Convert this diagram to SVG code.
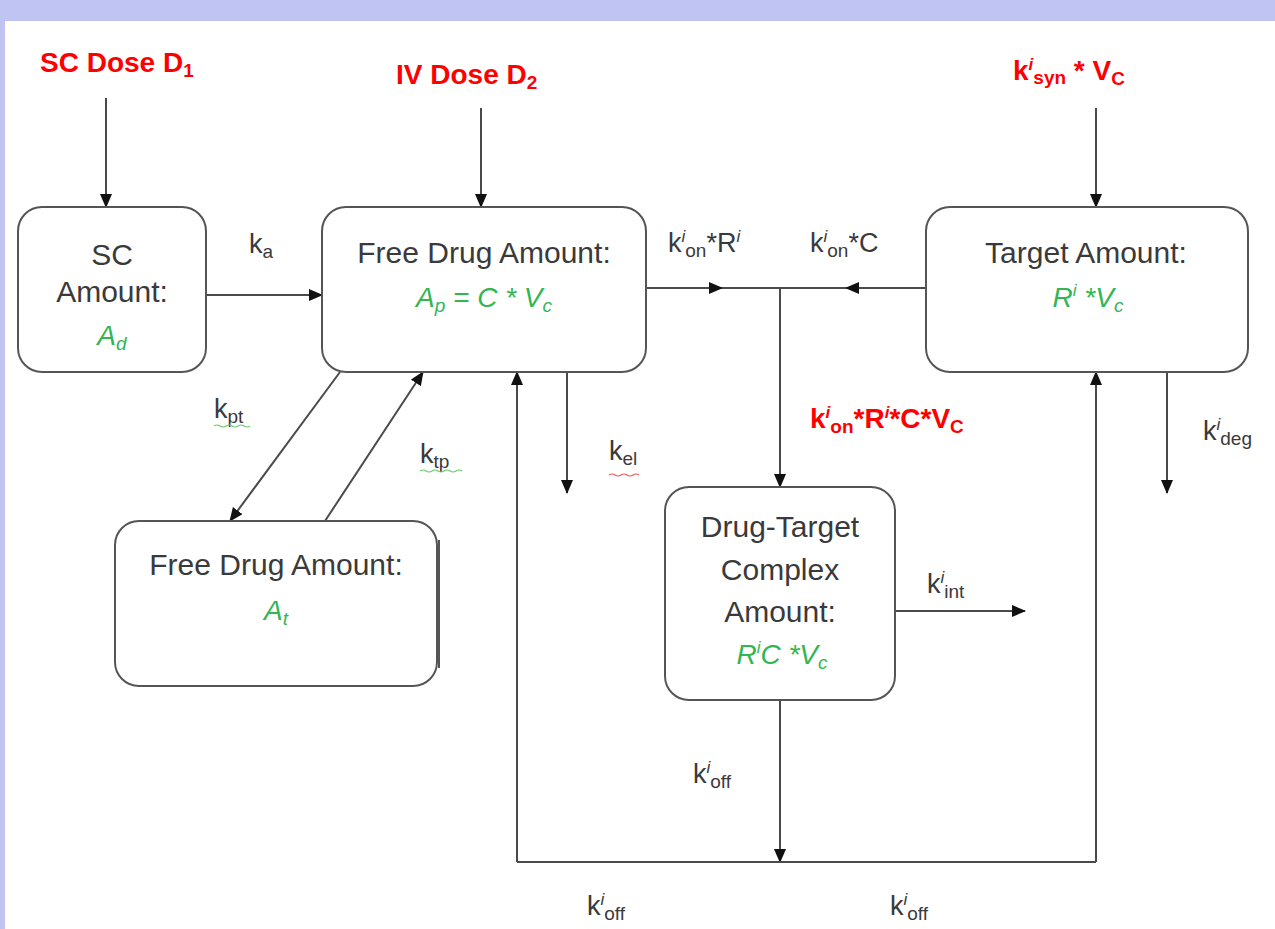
<svg xmlns="http://www.w3.org/2000/svg" width="1275" height="929" viewBox="0 0 1275 929">
<style>
.box{fill:#fff;stroke:#555;stroke-width:2}
.ln{fill:none;stroke:#4a4a4a;stroke-width:2}
.t{font-family:"Liberation Sans",Arial,sans-serif;font-size:30px;fill:#3a3a3a}
.f{font-family:"Liberation Sans",Arial,sans-serif;font-size:28px;font-style:italic;fill:#33b553}
.lab{font-family:"Liberation Sans",Arial,sans-serif;font-size:27px;fill:#3a3a3a}
.red{font-family:"Liberation Sans",Arial,sans-serif;font-size:28px;font-weight:bold;fill:#ff0000}
.sub{font-size:19px}
.sup{font-size:17px;font-style:italic}
</style>
<defs>
<marker id="ah" markerUnits="userSpaceOnUse" markerWidth="14" markerHeight="12" refX="13" refY="6" orient="auto">
<path d="M0,0 L14,6 L0,12 Z" fill="#111"/>
</marker>
</defs>
<rect x="0" y="0" width="1275" height="929" fill="#c0c4f2"/>
<rect x="5" y="21" width="1270" height="908" fill="#fff"/>

<g id="connectors">
<path class="ln" d="M106 98 V207" marker-end="url(#ah)"/>
<path class="ln" d="M481 108 V207" marker-end="url(#ah)"/>
<path class="ln" d="M1096 108 V207" marker-end="url(#ah)"/>
<path class="ln" d="M206 295 H322" marker-end="url(#ah)"/>
<path class="ln" d="M646 288 H926"/>
<path class="ln" d="M646 288 H722" marker-end="url(#ah)"/>
<path class="ln" d="M926 288 H846" marker-end="url(#ah)"/>
<path class="ln" d="M780 288 V487" marker-end="url(#ah)"/>
<path class="ln" d="M567 372 V493" marker-end="url(#ah)"/>
<path class="ln" d="M1167 372 V493" marker-end="url(#ah)"/>
<path class="ln" d="M340 372 L230 521" marker-end="url(#ah)"/>
<path class="ln" d="M325 521 L423 372" marker-end="url(#ah)"/>
<path class="ln" d="M895 611 H1025" marker-end="url(#ah)"/>
<path class="ln" d="M780 700 V862" marker-end="url(#ah)"/>
<path class="ln" d="M517 862 H1096"/>
<path class="ln" d="M517 862 V372" marker-end="url(#ah)"/>
<path class="ln" d="M1096 862 V372" marker-end="url(#ah)"/>
</g>

<g id="sc">
<rect class="box" x="18" y="207" width="188" height="165" rx="24"/>
<text class="t" x="112" y="265" text-anchor="middle">SC</text>
<text class="t" x="112" y="302" text-anchor="middle">Amount:</text>
<text class="f" x="112" y="345" text-anchor="middle">A<tspan class="sub" dy="5">d</tspan></text>
</g>

<g id="central">
<rect class="box" x="322" y="207" width="324" height="165" rx="24"/>
<text class="t" x="484" y="263" text-anchor="middle">Free Drug Amount:</text>
<text class="f" x="484" y="307" text-anchor="middle">A<tspan class="sub" dy="5">p</tspan><tspan dy="-5"> = C * V</tspan><tspan class="sub" dy="5">c</tspan></text>
</g>

<g id="target">
<rect class="box" x="926" y="207" width="322" height="165" rx="24"/>
<text class="t" x="1086" y="263" text-anchor="middle">Target Amount:</text>
<text class="f" x="1088" y="307" text-anchor="middle">R<tspan class="sup" dy="-11">i</tspan><tspan dy="11"> *V</tspan><tspan class="sub" dy="5">c</tspan></text>
</g>

<g id="tissue">
<line x1="439" y1="540" x2="439" y2="668" stroke="#555" stroke-width="2"/>
<rect class="box" x="115" y="521" width="322" height="165" rx="24"/>
<text class="t" x="276" y="575" text-anchor="middle">Free Drug Amount:</text>
<text class="f" x="276" y="620" text-anchor="middle">A<tspan class="sub" dy="5">t</tspan></text>
</g>

<g id="complex">
<rect class="box" x="665" y="487" width="230" height="213" rx="24"/>
<text class="t" x="780" y="537" text-anchor="middle">Drug-Target</text>
<text class="t" x="780" y="580" text-anchor="middle">Complex</text>
<text class="t" x="780" y="622" text-anchor="middle">Amount:</text>
<text class="f" x="782" y="664" text-anchor="middle">R<tspan class="sup" dy="-11">i</tspan><tspan dy="11">C *V</tspan><tspan class="sub" dy="5">c</tspan></text>
</g>

<g id="labels">
<text class="red" x="40" y="72">SC Dose D<tspan class="sub" dy="5">1</tspan></text>
<text class="red" x="396" y="84">IV Dose D<tspan class="sub" dy="5">2</tspan></text>
<text class="red" x="1013" y="80">k<tspan class="sup" dy="-10" font-style="normal">i</tspan><tspan class="sub" dy="14">syn</tspan><tspan dy="-4"> * V</tspan><tspan class="sub" dy="5">C</tspan></text>
<text class="red" x="810" y="428">k<tspan class="sup" dy="-10">i</tspan><tspan class="sub" dy="15">on</tspan><tspan dy="-5">*R</tspan><tspan class="sup" dy="-10">i</tspan><tspan dy="10">*C*V</tspan><tspan class="sub" dy="5">C</tspan></text>

<text class="lab" x="249" y="253">k<tspan class="sub" dy="5">a</tspan></text>
<text class="lab" x="214" y="418">k<tspan class="sub" dy="5">pt</tspan></text>
<path d="M214 426 q3 -2 6 0 t6 0 t6 0 t6 0 t6 0 t6 0" fill="none" stroke="#6c6" stroke-width="1.2"/>
<text class="lab" x="420" y="463">k<tspan class="sub" dy="5">tp</tspan></text>
<path d="M420 471 q3 -2 6 0 t6 0 t6 0 t6 0 t6 0 t6 0 t6 0" fill="none" stroke="#6c6" stroke-width="1.2"/>
<text class="lab" x="609" y="460">k<tspan class="sub" dy="5">el</tspan></text>
<path d="M609 475 q3 -2 6 0 t6 0 t6 0 t6 0 t6 0" fill="none" stroke="#e55" stroke-width="1.2"/>

<text class="lab" x="668" y="252">k<tspan class="sup" dy="-10">i</tspan><tspan class="sub" dy="15">on</tspan><tspan dy="-5">*R</tspan><tspan class="sup" dy="-10">i</tspan></text>
<text class="lab" x="810" y="252">k<tspan class="sup" dy="-10">i</tspan><tspan class="sub" dy="15">on</tspan><tspan dy="-5">*C</tspan></text>
<text class="lab" x="1203" y="440">k<tspan class="sup" dy="-10">i</tspan><tspan class="sub" dy="15">deg</tspan></text>
<text class="lab" x="927" y="593">k<tspan class="sup" dy="-10">i</tspan><tspan class="sub" dy="15">int</tspan></text>
<text class="lab" x="693" y="783">k<tspan class="sup" dy="-10">i</tspan><tspan class="sub" dy="15">off</tspan></text>
<text class="lab" x="587" y="915">k<tspan class="sup" dy="-10">i</tspan><tspan class="sub" dy="15">off</tspan></text>
<text class="lab" x="890" y="915">k<tspan class="sup" dy="-10">i</tspan><tspan class="sub" dy="15">off</tspan></text>
</g>
</svg>
